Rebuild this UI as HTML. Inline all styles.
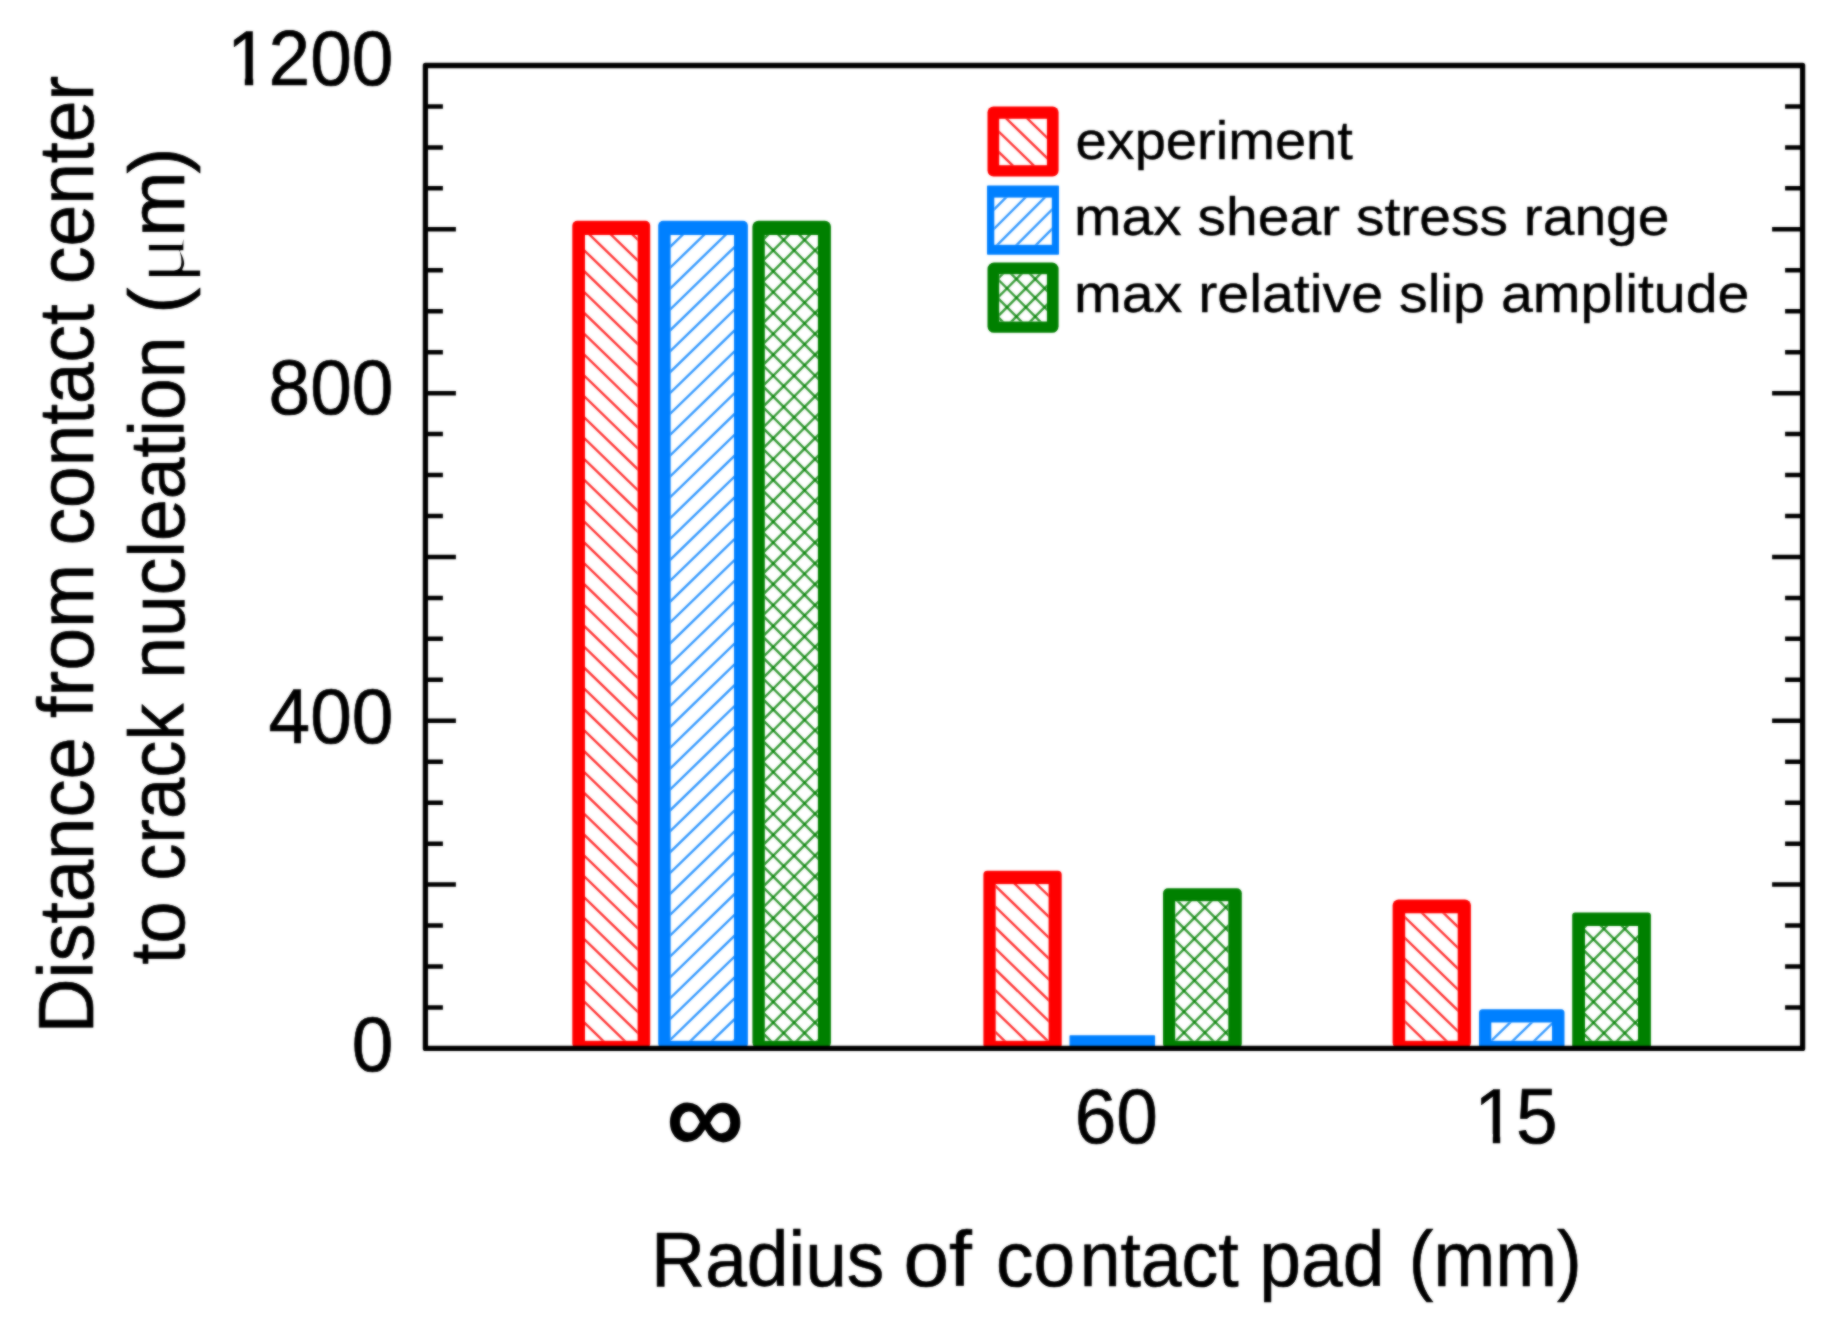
<!DOCTYPE html>
<html lang="en"><head><meta charset="utf-8"><title>Distance from contact center to crack nucleation</title>
<style>html,body{margin:0;padding:0;background:#fff}body{width:1830px;height:1328px;overflow:hidden}svg{display:block}text{font-family:"Liberation Sans",sans-serif;fill:#000;stroke:#000;stroke-width:0.7px;stroke-linejoin:round}#legend text{stroke-width:0.4px}.sym{font-family:"Liberation Serif",serif}</style></head><body>
<svg width="1830" height="1328" viewBox="0 0 1830 1328">
<defs><filter id="soft" color-interpolation-filters="sRGB" x="-10" y="-10" width="1850" height="1348" filterUnits="userSpaceOnUse"><feGaussianBlur in="SourceGraphic" stdDeviation="0.8" result="b"/><feComposite in="SourceGraphic" in2="b" operator="arithmetic" k1="0" k2="0.35" k3="0.65" k4="0"/></filter></defs>
<rect width="1830" height="1328" fill="#fff"/>
<g filter="url(#soft)">
<rect x="-20" y="-20" width="1870" height="1368" fill="#fff"/>
<g id="bars">
<rect x="572.3" y="220.8" width="77.9" height="827.6" rx="5.0" ry="5.0" fill="#ff0000"/>
<clipPath id="c1"><rect x="585.0" y="235.0" width="52.6" height="805.8"/></clipPath>
<rect x="585.0" y="235.0" width="52.6" height="805.8" fill="#fff"/>
<path clip-path="url(#c1)" d="M582.00 185.58L640.60 242.42M582.00 206.45L640.60 263.29M582.00 227.32L640.60 284.16M582.00 248.19L640.60 305.03M582.00 269.06L640.60 325.90M582.00 289.93L640.60 346.77M582.00 310.80L640.60 367.64M582.00 331.67L640.60 388.51M582.00 352.54L640.60 409.38M582.00 373.41L640.60 430.25M582.00 394.28L640.60 451.12M582.00 415.15L640.60 471.99M582.00 436.02L640.60 492.86M582.00 456.89L640.60 513.73M582.00 477.76L640.60 534.60M582.00 498.63L640.60 555.47M582.00 519.50L640.60 576.34M582.00 540.37L640.60 597.21M582.00 561.24L640.60 618.08M582.00 582.11L640.60 638.95M582.00 602.98L640.60 659.82M582.00 623.85L640.60 680.69M582.00 644.72L640.60 701.56M582.00 665.59L640.60 722.43M582.00 686.46L640.60 743.30M582.00 707.33L640.60 764.17M582.00 728.20L640.60 785.04M582.00 749.07L640.60 805.91M582.00 769.94L640.60 826.78M582.00 790.81L640.60 847.65M582.00 811.68L640.60 868.52M582.00 832.55L640.60 889.39M582.00 853.42L640.60 910.26M582.00 874.29L640.60 931.13M582.00 895.16L640.60 952.00M582.00 916.03L640.60 972.87M582.00 936.90L640.60 993.74M582.00 957.77L640.60 1014.61M582.00 978.64L640.60 1035.48M582.00 999.51L640.60 1056.35M582.00 1020.38L640.60 1077.22" stroke="#ff0000" stroke-width="2.40" stroke-opacity="0.80" fill="none"/>
<rect x="658.2" y="220.8" width="89.7" height="827.6" rx="5.0" ry="5.0" fill="#0080ff"/>
<clipPath id="c2"><rect x="670.6" y="235.0" width="63.4" height="805.8"/></clipPath>
<rect x="670.6" y="235.0" width="63.4" height="805.8" fill="#fff"/>
<path clip-path="url(#c2)" d="M667.60 249.32L737.00 182.00M667.60 270.19L737.00 202.87M667.60 291.06L737.00 223.74M667.60 311.93L737.00 244.61M667.60 332.80L737.00 265.48M667.60 353.67L737.00 286.35M667.60 374.54L737.00 307.22M667.60 395.41L737.00 328.09M667.60 416.28L737.00 348.96M667.60 437.15L737.00 369.83M667.60 458.02L737.00 390.70M667.60 478.89L737.00 411.57M667.60 499.76L737.00 432.44M667.60 520.63L737.00 453.31M667.60 541.50L737.00 474.18M667.60 562.37L737.00 495.05M667.60 583.24L737.00 515.92M667.60 604.11L737.00 536.79M667.60 624.98L737.00 557.66M667.60 645.85L737.00 578.53M667.60 666.72L737.00 599.40M667.60 687.59L737.00 620.27M667.60 708.46L737.00 641.14M667.60 729.33L737.00 662.01M667.60 750.20L737.00 682.88M667.60 771.07L737.00 703.75M667.60 791.94L737.00 724.62M667.60 812.81L737.00 745.49M667.60 833.68L737.00 766.36M667.60 854.55L737.00 787.23M667.60 875.42L737.00 808.10M667.60 896.29L737.00 828.97M667.60 917.16L737.00 849.84M667.60 938.03L737.00 870.71M667.60 958.90L737.00 891.58M667.60 979.77L737.00 912.45M667.60 1000.64L737.00 933.32M667.60 1021.51L737.00 954.19M667.60 1042.38L737.00 975.06M667.60 1063.25L737.00 995.93M667.60 1084.12L737.00 1016.80M667.60 1104.99L737.00 1037.67" stroke="#0080ff" stroke-width="2.40" stroke-opacity="0.80" fill="none"/>
<rect x="752.4" y="220.8" width="78.5" height="827.6" rx="6.0" ry="6.0" fill="#008000"/>
<clipPath id="c3"><rect x="764.8" y="235.0" width="53.1" height="805.8"/></clipPath>
<rect x="764.8" y="235.0" width="53.1" height="805.8" fill="#fff"/>
<path clip-path="url(#c3)" d="M761.80 197.21L820.90 256.31M761.80 218.08L820.90 277.18M761.80 238.95L820.90 298.05M761.80 259.82L820.90 318.92M761.80 280.69L820.90 339.79M761.80 301.56L820.90 360.66M761.80 322.43L820.90 381.53M761.80 343.30L820.90 402.40M761.80 364.17L820.90 423.27M761.80 385.04L820.90 444.14M761.80 405.91L820.90 465.01M761.80 426.78L820.90 485.88M761.80 447.65L820.90 506.75M761.80 468.52L820.90 527.62M761.80 489.39L820.90 548.49M761.80 510.26L820.90 569.36M761.80 531.13L820.90 590.23M761.80 552.00L820.90 611.10M761.80 572.87L820.90 631.97M761.80 593.74L820.90 652.84M761.80 614.61L820.90 673.71M761.80 635.48L820.90 694.58M761.80 656.35L820.90 715.45M761.80 677.22L820.90 736.32M761.80 698.09L820.90 757.19M761.80 718.96L820.90 778.06M761.80 739.83L820.90 798.93M761.80 760.70L820.90 819.80M761.80 781.57L820.90 840.67M761.80 802.44L820.90 861.54M761.80 823.31L820.90 882.41M761.80 844.18L820.90 903.28M761.80 865.05L820.90 924.15M761.80 885.92L820.90 945.02M761.80 906.79L820.90 965.89M761.80 927.66L820.90 986.76M761.80 948.53L820.90 1007.63M761.80 969.40L820.90 1028.50M761.80 990.27L820.90 1049.37M761.80 1011.14L820.90 1070.24M761.80 1032.01L820.90 1091.11" stroke="#008000" stroke-width="2.40" stroke-opacity="0.80" fill="none"/>
<path clip-path="url(#c3)" d="M761.80 240.96L820.90 181.86M761.80 261.83L820.90 202.73M761.80 282.70L820.90 223.60M761.80 303.57L820.90 244.47M761.80 324.44L820.90 265.34M761.80 345.31L820.90 286.21M761.80 366.18L820.90 307.08M761.80 387.05L820.90 327.95M761.80 407.92L820.90 348.82M761.80 428.79L820.90 369.69M761.80 449.66L820.90 390.56M761.80 470.53L820.90 411.43M761.80 491.40L820.90 432.30M761.80 512.27L820.90 453.17M761.80 533.14L820.90 474.04M761.80 554.01L820.90 494.91M761.80 574.88L820.90 515.78M761.80 595.75L820.90 536.65M761.80 616.62L820.90 557.52M761.80 637.49L820.90 578.39M761.80 658.36L820.90 599.26M761.80 679.23L820.90 620.13M761.80 700.10L820.90 641.00M761.80 720.97L820.90 661.87M761.80 741.84L820.90 682.74M761.80 762.71L820.90 703.61M761.80 783.58L820.90 724.48M761.80 804.45L820.90 745.35M761.80 825.32L820.90 766.22M761.80 846.19L820.90 787.09M761.80 867.06L820.90 807.96M761.80 887.93L820.90 828.83M761.80 908.80L820.90 849.70M761.80 929.67L820.90 870.57M761.80 950.54L820.90 891.44M761.80 971.41L820.90 912.31M761.80 992.28L820.90 933.18M761.80 1013.15L820.90 954.05M761.80 1034.02L820.90 974.92M761.80 1054.89L820.90 995.79M761.80 1075.76L820.90 1016.66M761.80 1096.63L820.90 1037.53" stroke="#008000" stroke-width="2.40" stroke-opacity="0.80" fill="none"/>
<rect x="983.4" y="870.8" width="78.3" height="177.6" rx="4.0" ry="4.0" fill="#ff0000"/>
<clipPath id="c4"><rect x="995.7" y="884.1" width="52.9" height="156.7"/></clipPath>
<rect x="995.7" y="884.1" width="52.9" height="156.7" fill="#fff"/>
<path clip-path="url(#c4)" d="M992.70 841.54L1051.60 898.67M992.70 862.41L1051.60 919.54M992.70 883.28L1051.60 940.41M992.70 904.15L1051.60 961.28M992.70 925.02L1051.60 982.15M992.70 945.89L1051.60 1003.02M992.70 966.76L1051.60 1023.89M992.70 987.63L1051.60 1044.76M992.70 1008.50L1051.60 1065.63M992.70 1029.37L1051.60 1086.50" stroke="#ff0000" stroke-width="2.40" stroke-opacity="0.80" fill="none"/>
<rect x="1069.5" y="1035.2" width="85.6" height="13.2" rx="0.8" ry="0.8" fill="#0080ff"/>
<rect x="1163.0" y="888.3" width="78.8" height="160.1" rx="5.0" ry="5.0" fill="#008000"/>
<clipPath id="c5"><rect x="1175.2" y="901.2" width="53.1" height="139.6"/></clipPath>
<rect x="1175.2" y="901.2" width="53.1" height="139.6" fill="#fff"/>
<path clip-path="url(#c5)" d="M1172.20 853.86L1231.30 912.96M1172.20 874.73L1231.30 933.83M1172.20 895.60L1231.30 954.70M1172.20 916.47L1231.30 975.57M1172.20 937.34L1231.30 996.44M1172.20 958.21L1231.30 1017.31M1172.20 979.08L1231.30 1038.18M1172.20 999.95L1231.30 1059.05M1172.20 1020.82L1231.30 1079.92" stroke="#008000" stroke-width="2.40" stroke-opacity="0.80" fill="none"/>
<path clip-path="url(#c5)" d="M1172.20 919.20L1231.30 860.10M1172.20 940.07L1231.30 880.97M1172.20 960.94L1231.30 901.84M1172.20 981.81L1231.30 922.71M1172.20 1002.68L1231.30 943.58M1172.20 1023.55L1231.30 964.45M1172.20 1044.42L1231.30 985.32M1172.20 1065.29L1231.30 1006.19M1172.20 1086.16L1231.30 1027.06" stroke="#008000" stroke-width="2.40" stroke-opacity="0.80" fill="none"/>
<rect x="1392.6" y="899.4" width="78.3" height="149.0" rx="6.0" ry="6.0" fill="#ff0000"/>
<clipPath id="c6"><rect x="1405.2" y="913.3" width="52.5" height="127.5"/></clipPath>
<rect x="1405.2" y="913.3" width="52.5" height="127.5" fill="#fff"/>
<path clip-path="url(#c6)" d="M1402.20 872.87L1460.70 929.62M1402.20 893.74L1460.70 950.49M1402.20 914.61L1460.70 971.36M1402.20 935.48L1460.70 992.23M1402.20 956.35L1460.70 1013.10M1402.20 977.22L1460.70 1033.97M1402.20 998.09L1460.70 1054.84M1402.20 1018.96L1460.70 1075.71" stroke="#ff0000" stroke-width="2.40" stroke-opacity="0.80" fill="none"/>
<rect x="1479.0" y="1009.2" width="85.5" height="39.2" rx="3.5" ry="3.5" fill="#0080ff"/>
<clipPath id="c7"><rect x="1491.3" y="1022.5" width="60.7" height="18.3"/></clipPath>
<rect x="1491.3" y="1022.5" width="60.7" height="18.3" fill="#fff"/>
<path clip-path="url(#c7)" d="M1488.30 1043.75L1555.00 979.05M1488.30 1064.62L1555.00 999.92M1488.30 1085.49L1555.00 1020.79" stroke="#0080ff" stroke-width="2.40" stroke-opacity="0.80" fill="none"/>
<rect x="1572.2" y="912.6" width="78.7" height="135.8" rx="3.0" ry="3.0" fill="#008000"/>
<clipPath id="c8"><rect x="1585.0" y="926.0" width="53.0" height="114.8"/></clipPath>
<rect x="1585.0" y="926.0" width="53.0" height="114.8" fill="#fff"/>
<path clip-path="url(#c8)" d="M1582.00 885.96L1641.00 944.96M1582.00 906.83L1641.00 965.83M1582.00 927.70L1641.00 986.70M1582.00 948.57L1641.00 1007.57M1582.00 969.44L1641.00 1028.44M1582.00 990.31L1641.00 1049.31M1582.00 1011.18L1641.00 1070.18M1582.00 1032.05L1641.00 1091.05" stroke="#008000" stroke-width="2.40" stroke-opacity="0.80" fill="none"/>
<path clip-path="url(#c8)" d="M1582.00 929.75L1641.00 870.75M1582.00 950.62L1641.00 891.62M1582.00 971.49L1641.00 912.49M1582.00 992.36L1641.00 933.36M1582.00 1013.23L1641.00 954.23M1582.00 1034.10L1641.00 975.10M1582.00 1054.97L1641.00 995.97M1582.00 1075.84L1641.00 1016.84M1582.00 1096.71L1641.00 1037.71" stroke="#008000" stroke-width="2.40" stroke-opacity="0.80" fill="none"/>
</g>
<g id="legend">
<rect x="987.5" y="106.4" width="71.1" height="70.2" rx="6.0" ry="6.0" fill="#ff0000"/>
<clipPath id="c9"><rect x="999.2" y="118.8" width="47.7" height="46.4"/></clipPath>
<rect x="999.2" y="118.8" width="47.7" height="46.4" fill="#fff"/>
<path clip-path="url(#c9)" d="M996.20 88.29L1049.90 140.38M996.20 108.69L1049.90 160.78M996.20 129.09L1049.90 181.18M996.20 149.49L1049.90 201.58" stroke="#ff0000" stroke-width="2.40" stroke-opacity="0.80" fill="none"/>
<rect x="987.0" y="185.6" width="72.0" height="69.2" rx="0.8" ry="0.8" fill="#0080ff"/>
<clipPath id="c10"><rect x="994.3" y="197.6" width="57.5" height="47.2"/></clipPath>
<rect x="994.3" y="197.6" width="57.5" height="47.2" fill="#fff"/>
<path clip-path="url(#c10)" d="M991.30 212.15L1054.80 148.65M991.30 231.55L1054.80 168.05M991.30 250.95L1054.80 187.45M991.30 270.35L1054.80 206.85M991.30 289.75L1054.80 226.25" stroke="#0080ff" stroke-width="2.40" stroke-opacity="0.80" fill="none"/>
<rect x="987.5" y="262.5" width="71.1" height="70.3" rx="6.5" ry="6.5" fill="#008000"/>
<clipPath id="c11"><rect x="999.2" y="274.2" width="47.7" height="47.3"/></clipPath>
<rect x="999.2" y="274.2" width="47.7" height="47.3" fill="#fff"/>
<path clip-path="url(#c11)" d="M996.20 240.00L1049.90 293.70M996.20 258.80L1049.90 312.50M996.20 277.60L1049.90 331.30M996.20 296.40L1049.90 350.10M996.20 315.20L1049.90 368.90" stroke="#008000" stroke-width="2.40" stroke-opacity="0.80" fill="none"/>
<path clip-path="url(#c11)" d="M996.20 280.40L1049.90 226.70M996.20 299.20L1049.90 245.50M996.20 318.00L1049.90 264.30M996.20 336.80L1049.90 283.10M996.20 355.60L1049.90 301.90" stroke="#008000" stroke-width="2.40" stroke-opacity="0.80" fill="none"/>
<text x="1075.4" y="158.8" font-size="54.5" textLength="277.5" lengthAdjust="spacingAndGlyphs">experiment</text>
<text x="1074.0" y="235.3" font-size="54.5" textLength="595.5" lengthAdjust="spacingAndGlyphs">max shear stress range</text>
<text x="1074.0" y="312.2" font-size="54.5" textLength="675.5" lengthAdjust="spacingAndGlyphs">max relative slip amplitude</text>
</g>
<g id="axes" stroke="#000" fill="none">
<rect x="425.4" y="65.5" width="1377.2" height="982.9" stroke-width="5.3" stroke-linejoin="round"/>
<path d="M425.4 1007.45h17.5M1802.6 1007.45h-17.5M425.4 966.49h17.5M1802.6 966.49h-17.5M425.4 925.54h17.5M1802.6 925.54h-17.5M425.4 884.58h30.5M1802.6 884.58h-30.5M425.4 843.63h17.5M1802.6 843.63h-17.5M425.4 802.68h17.5M1802.6 802.68h-17.5M425.4 761.72h17.5M1802.6 761.72h-17.5M425.4 720.77h30.5M1802.6 720.77h-30.5M425.4 679.81h17.5M1802.6 679.81h-17.5M425.4 638.86h17.5M1802.6 638.86h-17.5M425.4 597.90h17.5M1802.6 597.90h-17.5M425.4 556.95h30.5M1802.6 556.95h-30.5M425.4 516.00h17.5M1802.6 516.00h-17.5M425.4 475.04h17.5M1802.6 475.04h-17.5M425.4 434.09h17.5M1802.6 434.09h-17.5M425.4 393.13h30.5M1802.6 393.13h-30.5M425.4 352.18h17.5M1802.6 352.18h-17.5M425.4 311.23h17.5M1802.6 311.23h-17.5M425.4 270.27h17.5M1802.6 270.27h-17.5M425.4 229.32h30.5M1802.6 229.32h-30.5M425.4 188.36h17.5M1802.6 188.36h-17.5M425.4 147.41h17.5M1802.6 147.41h-17.5M425.4 106.45h17.5M1802.6 106.45h-17.5" stroke-width="4.5"/>
</g>
<g id="ticklabels">
<text transform="translate(393.40 85.40) scale(0.9645 1)" font-size="77.60" text-anchor="end">1200</text>
<text transform="translate(393.40 414.10) scale(0.9645 1)" font-size="77.60" text-anchor="end">800</text>
<text transform="translate(393.40 743.30) scale(0.9645 1)" font-size="77.60" text-anchor="end">400</text>
<text transform="translate(393.40 1071.20) scale(0.9645 1)" font-size="77.60" text-anchor="end">0</text>
<text transform="translate(1116.30 1142.60) scale(0.9645 1)" font-size="77.60" text-anchor="middle">60</text>
<text transform="translate(1515.90 1142.60) scale(0.9645 1)" font-size="77.60" text-anchor="middle">15</text>
<path d="M228 76h16.8v13h-16.8zM253.2 76h15v13h-15zM1476 1134h16.8v13h-16.8zM1500.2 1134h15v13h-15z" fill="#fff"/>
<text transform="translate(705.00 1154.30)" font-size="109.70" text-anchor="middle" font-weight="bold" style="stroke:none">∞</text>
</g>
<g id="titles">
<text y="1286.2" font-size="77.20"><tspan x="651.08" textLength="233.24" lengthAdjust="spacingAndGlyphs">Radius</tspan> <tspan x="903.51" textLength="68.42" lengthAdjust="spacingAndGlyphs">of</tspan> <tspan x="995.99" textLength="79.06" lengthAdjust="spacingAndGlyphs">co</tspan><tspan x="1079.65" textLength="158.98" lengthAdjust="spacingAndGlyphs">ntact</tspan> <tspan x="1259.34" textLength="125.23" lengthAdjust="spacingAndGlyphs">pad</tspan> <tspan x="1408.86" textLength="172.90" lengthAdjust="spacingAndGlyphs">(mm)</tspan></text>
<text transform="translate(93.2 0) rotate(-90)" font-size="77.20"><tspan x="-1033.52" textLength="296.39" lengthAdjust="spacingAndGlyphs">Distance</tspan> <tspan x="-717.90" textLength="154.06" lengthAdjust="spacingAndGlyphs">from</tspan> <tspan x="-545.31" textLength="241.09" lengthAdjust="spacingAndGlyphs">contact</tspan> <tspan x="-284.01" textLength="208.33" lengthAdjust="spacingAndGlyphs">center</tspan></text>
<text transform="translate(184.4 0) rotate(-90)" font-size="77.20"><tspan x="-964.58" textLength="62.90" lengthAdjust="spacingAndGlyphs">to</tspan> <tspan x="-880.68" textLength="176.88" lengthAdjust="spacingAndGlyphs">crack</tspan> <tspan x="-678.66" textLength="342.13" lengthAdjust="spacingAndGlyphs">nucleation</tspan> <tspan x="-313.78" textLength="26.21" lengthAdjust="spacingAndGlyphs">(</tspan><tspan x="-284.62" textLength="49.80" lengthAdjust="spacingAndGlyphs" class="sym" style="stroke:#fff;stroke-width:1.7px;paint-order:fill stroke">μ</tspan><tspan x="-236.70" textLength="65.60" lengthAdjust="spacingAndGlyphs">m</tspan><tspan x="-173.60" textLength="25.84" lengthAdjust="spacingAndGlyphs">)</tspan></text>
</g>
</g>
</svg></body></html>
